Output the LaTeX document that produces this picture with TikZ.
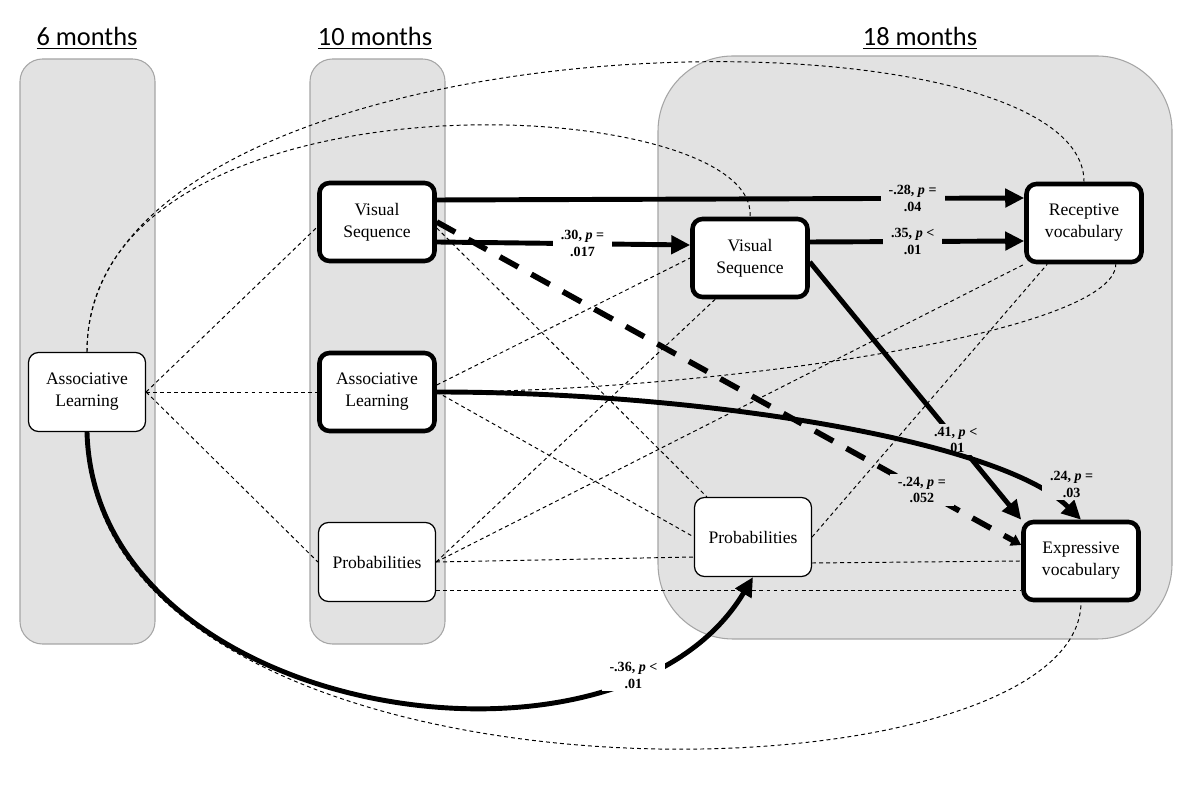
\documentclass[tikz,border=0pt]{standalone}
\usepackage{fontspec}
\setmainfont{Liberation Serif}
\newfontfamily\headfont{Carlito}
\usetikzlibrary{arrows.meta}
\definecolor{panelgray}{RGB}{226,226,226}
\definecolor{paneledge}{RGB}{165,165,165}
\begin{document}
\begin{tikzpicture}[
        panel/.style={draw=paneledge, fill=panelgray, line width=0.6pt},
        head/.style={font=\headfont\fontsize{15}{17}\selectfont},
        bbox/.style={draw, fill=white, rounded corners=0.2cm, line width=2.6pt, align=center,
          minimum width=2.3cm, minimum height=1.56cm, font=\fontsize{10}{12.5}\selectfont},
        tbox/.style={bbox, line width=0.7pt, minimum width=2.34cm, minimum height=1.58cm},
        eff/.style={line width=2.8pt, -{Triangle[length=0.38cm, width=0.36cm]}},
        effdash/.style={line width=3.2pt, dash pattern=on 0.42cm off 0.3cm, -{Triangle[length=0.2cm, width=0.24cm]}},
        corr/.style={line width=0.55pt, dash pattern=on 2.2pt off 1.8pt},
        lbl/.style={font=\fontsize{8}{9.5}\selectfont\bfseries, align=center, inner xsep=0.16cm, inner ysep=0.05cm}
      ]
      \useasboundingbox (0, 0) rectangle (24, 15.68);
      % panels
      \draw[panel, rounded corners=0.45cm] (0.4, 2.8) rectangle (3.1, 14.5);
      \draw[panel, rounded corners=0.45cm] (6.2, 2.8) rectangle (8.9, 14.5);
      \draw[panel, rounded corners=1.5cm] (13.16, 2.9) rectangle (23.44, 14.56);
      \node[head] at (1.74, 14.92) (h6) {\underline{6 months}};
      \node[head] at (7.5, 14.92) (h10) {\underline{10 months}};
      \node[head] at (18.4, 14.92) (h18) {\underline{18 months}};

      % boxes
      \node[tbox] at (1.74, 7.84) (al6) {Associative\\Learning};
      \node[bbox] at (7.54, 11.24) (vs10) {Visual\\Sequence};
      \node[bbox] at (7.54, 7.84) (al10) {Associative\\Learning};
      \node[tbox] at (7.54, 4.44) (pr10) {Probabilities};
      \node[bbox] at (15.0, 10.52) (vs18) {Visual\\Sequence};
      \node[bbox] at (21.68, 11.22) (rv) {Receptive\\vocabulary};
      \node[tbox] at (15.06, 4.94) (pr18) {Probabilities};
      \node[bbox] at (21.62, 4.46) (ev) {Expressive\\vocabulary};

      % correlations
      \draw[corr] (al6.east) -- ([yshift=-0.1cm]vs10.west);
      \draw[corr] (al6.east) -- (al10.west);
      \draw[corr] (al6.east) -- (pr10.west);
      \draw[corr] (al6.north) .. controls (1.74, 15.5) and (21.68, 15.8) .. (rv.north);
      \draw[corr] (al6.north) .. controls (1.74, 14.48) and (15.2, 13.88) .. (vs18.north);
      \draw[corr] (al6.south) .. controls (1.74, -0.9) and (21.6, -0.6) .. (ev.south);
      \draw[corr] ([yshift=-0.12cm]vs10.east) -- ([xshift=0.26cm]pr18.north west);
      \draw[corr] ([yshift=0.14cm]al10.east) -- (vs18.west);
      \draw[corr] (al10.east) -- (pr18.west);
      \draw[corr] (al10.east) .. controls (14.0, 7.84) and (22.3, 8.98) .. ([xshift=-0.56cm]rv.south east);
      \draw[corr] (pr10.east) -- ([xshift=0.5cm]vs18.south west);
      \draw[corr] (pr10.east) -- (rv.south west);
      \draw[corr] (pr10.east) -- ([yshift=-0.4cm]pr18.west);
      \draw[corr] ([yshift=-0.56cm]pr10.east) -- ([yshift=-0.58cm]ev.west);
      \draw[corr] (pr18.east) -- ([xshift=0.46cm]rv.south west);
      \draw[corr] ([yshift=-0.52cm]pr18.east) -- (ev.west);

      % paths
      \draw[eff] ([yshift=0.44cm]vs10.east) -- node[lbl, fill=panelgray, pos=0.81] {-.28, \textit{p} =\\.04} ([yshift=0.5cm]rv.west);
      \draw[eff] ([yshift=-0.4cm]vs10.east) -- node[lbl, fill=white, pos=0.575] {.30, \textit{p} =\\.017} ([yshift=0.26cm]vs18.west);
      \draw[eff] ([yshift=0.32cm]vs18.east) -- node[lbl, fill=panelgray, pos=0.48] {.35, \textit{p} <\\.01} ([yshift=-0.36cm]rv.west);
      \draw[eff] ([yshift=-0.08cm]vs18.east) -- node[lbl, fill=panelgray, pos=0.69] {.41, \textit{p} <\\.01} (ev.north west);
      \draw[effdash] (vs10.east) -- node[lbl, fill=panelgray, pos=0.83] {-.24, \textit{p} =\\.052} ([yshift=0.32cm]ev.west);
      \draw[eff] (al10.east) .. controls (14.0, 7.84) and (20.0, 6.88) .. node[lbl, fill=panelgray, pos=0.89, xshift=0.5cm, yshift=0.2cm] {.24, \textit{p} =\\.03} (ev.north);
      \draw[eff] (al6.south) .. controls (1.9, 1.28) and (12.4, -0.32) .. node[lbl, fill=white, pos=0.8] {-.36, \textit{p} <\\.01} (pr18.south);
  \end{tikzpicture}
\end{document}
